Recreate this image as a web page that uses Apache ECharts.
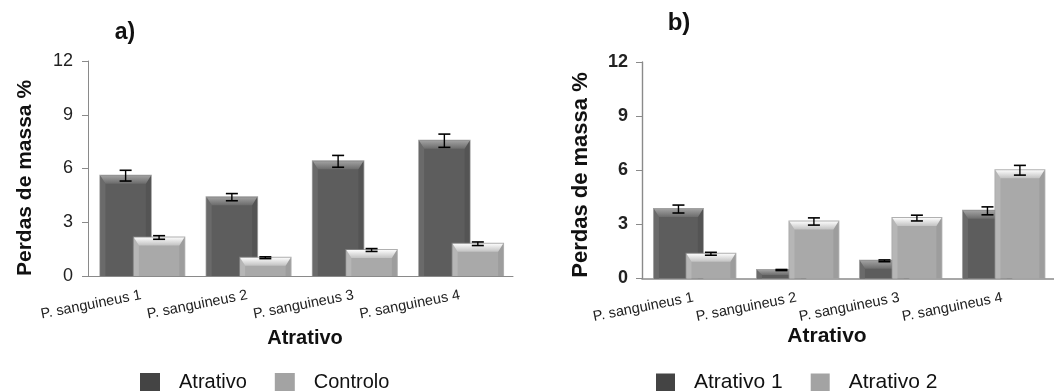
<!DOCTYPE html>
<html>
<head>
<meta charset="utf-8">
<script src="https://cdn.jsdelivr.net/npm/echarts@6/dist/echarts.min.js"></script>
<style>
  html, body { margin: 0; padding: 0; background: #ffffff; }
  #chart { width: 1054px; height: 391px; }
</style>
</head>
<body>
<div id="chart"></div>
<script>
// Mass loss (%) per attractant, with standard-error bars
const categories = ['P. sanguineus 1', 'P. sanguineus 2', 'P. sanguineus 3', 'P. sanguineus 4'];
const yTicks = [0, 3, 6, 9, 12];

// Panel a)
const atrativoA = [5.6, 4.4, 6.4, 7.55];
const atrativoAErr = [0.3, 0.2, 0.33, 0.37];
const controloA = [2.15, 1.02, 1.45, 1.8];
const controloAErr = [0.1, 0.05, 0.08, 0.1];

// Panel b)
const atrativo1B = [3.85, 0.47, 0.98, 3.75];
const atrativo1BErr = [0.22, 0.03, 0.05, 0.22];
const atrativo2B = [1.37, 3.16, 3.35, 6.0];
const atrativo2BErr = [0.08, 0.2, 0.16, 0.27];

const FONT = '"Liberation Sans", Arial, sans-serif';

const DARK = {
  legend: '#444444', body: '#5d5d5d', edge: '#7a7a7a', left: '#6a6a6a', right: '#545454',
  topA: '#a0a0a0', topB: '#6c6c6c'
};
const LIGHT = {
  legend: '#a3a3a3', body: '#a9a9a9', edge: '#8e8e8e', left: '#b6b6b6', right: '#9d9d9d',
  topA: '#fbfbfb', topB: '#c2c2c2'
};

function rows(vals, errs) {
  return vals.map((v, i) => [i, v, errs[i]]);
}

// Bevelled bar plus its error bar; offset and width are fractions of the category band
function bevelRenderer(offsetFrac, widthFrac, pal) {
  return function (params, api) {
    const cat = api.value(0);
    const val = api.value(1);
    const err = api.value(2);
    const band = api.size([1, 0])[0];
    const base = api.coord([cat, 0]);
    const top = api.coord([cat, val]);
    const w = band * widthFrac;
    const cx = base[0] + band * offsetFrac;
    const x = cx - w / 2;
    const y = top[1];
    const h = base[1] - top[1];
    const bt = Math.min(8, h * 0.6);
    const bs = Math.min(5, w / 4);
    const hi = api.coord([cat, val + err])[1];
    const lo = api.coord([cat, val - err])[1];
    const cap = 6;
    const children = [
      { type: 'rect', shape: { x: x - 1, y: y - 1, width: w + 2, height: h + 1 },
        style: { fill: pal.edge, opacity: 0.7 } },
      { type: 'rect', shape: { x: x, y: y, width: w, height: h },
        style: { fill: pal.body } },
      { type: 'polygon', shape: { points: [[x, y], [x + bs, y + bt], [x + bs, base[1]], [x, base[1]]] },
        style: { fill: pal.left } },
      { type: 'polygon', shape: { points: [[x + w, y], [x + w - bs, y + bt], [x + w - bs, base[1]], [x + w, base[1]]] },
        style: { fill: pal.right } },
      { type: 'polygon', shape: { points: [[x, y], [x + w, y], [x + w - bs, y + bt], [x + bs, y + bt]] },
        style: { fill: new echarts.graphic.LinearGradient(0, 0, 0, 1, [
          { offset: 0, color: pal.topA }, { offset: 1, color: pal.topB }]) } },
      { type: 'line', shape: { x1: cx, y1: hi, x2: cx, y2: lo },
        style: { stroke: '#000', lineWidth: 1.4 } },
      { type: 'line', shape: { x1: cx - cap, y1: hi, x2: cx + cap, y2: hi },
        style: { stroke: '#000', lineWidth: 1.6 } },
      { type: 'line', shape: { x1: cx - cap, y1: lo, x2: cx + cap, y2: lo },
        style: { stroke: '#000', lineWidth: 1.6 } }
    ];
    return { type: 'group', children: children };
  };
}

function barSeries(name, idx, data, offsetFrac, pal, z) {
  return {
    name: name,
    type: 'custom',
    xAxisIndex: idx,
    yAxisIndex: idx,
    z: z,
    itemStyle: { color: pal.legend },
    renderItem: bevelRenderer(offsetFrac, 0.475, pal),
    encode: { x: 0, y: 1 },
    data: data
  };
}

function xAxisFor(idx) {
  return {
    type: 'category',
    gridIndex: idx,
    data: categories,
    axisLine: { lineStyle: { color: '#8a8a8a', width: idx === 1 ? 1.6 : 1 } },
    axisTick: { show: false },
    axisLabel: {
      interval: 0, rotate: 11, margin: 19,
      fontFamily: FONT, fontSize: 14.5, color: '#222'
    }
  };
}

function yAxisFor(idx, weight, margin) {
  return {
    type: 'value',
    gridIndex: idx,
    min: yTicks[0],
    max: yTicks[yTicks.length - 1],
    interval: yTicks[1] - yTicks[0],
    splitLine: { show: false },
    axisLine: { show: true, lineStyle: { color: '#8a8a8a', width: idx === 1 ? 1.4 : 1 } },
    axisTick: { show: true, length: 6, lineStyle: { color: '#8a8a8a' } },
    axisLabel: { fontFamily: FONT, fontSize: 18, color: '#222', fontWeight: weight, margin: margin }
  };
}

function text(str, x, y, size, rotation) {
  return {
    type: 'text', x: x, y: y, rotation: rotation || 0,
    style: { text: str, fontFamily: FONT, fontSize: size, fontWeight: 'bold', fill: '#111',
             align: 'center', verticalAlign: 'middle' }
  };
}

const legendBase = {
  orient: 'horizontal',
  icon: 'rect',
  itemWidth: 20,
  itemHeight: 18,
  itemGap: 28,
  padding: 0,
  textStyle: { fontFamily: FONT, fontSize: 20, color: '#111', padding: [0, 0, 0, 14] }
};

const chart = echarts.init(document.getElementById('chart'), null, { renderer: 'canvas' });
chart.setOption({
  backgroundColor: '#ffffff',
  animation: false,
  grid: [
    { left: 88, top: 61, width: 425, height: 215 },
    { left: 642, top: 62, width: 426, height: 216.5 }
  ],
  xAxis: [xAxisFor(0), xAxisFor(1)],
  yAxis: [yAxisFor(0, 'normal', 15), yAxisFor(1, 'bold', 14)],
  legend: [
    Object.assign({}, legendBase, { left: 140, top: 372, data: ['Atrativo', 'Controlo'] }),
    Object.assign({}, legendBase, { left: 656, top: 372, itemWidth: 19, data: ['Atrativo 1', 'Atrativo 2'],
      textStyle: Object.assign({}, legendBase.textStyle, { fontSize: 21 }) })
  ],
  graphic: [
    text('a)', 125, 33, 23),
    text('b)', 679, 23, 24),
    text('Perdas de massa %', 25, 178, 21, Math.PI / 2),
    text('Atrativo', 305, 338, 20),
    text('Perdas de massa %', 581, 175, 22, Math.PI / 2),
    text('Atrativo', 827, 336, 21)
  ],
  series: [
    barSeries('Atrativo', 0, rows(atrativoA, atrativoAErr), -0.146, DARK, 2),
    barSeries('Controlo', 0, rows(controloA, controloAErr), 0.169, LIGHT, 3),
    barSeries('Atrativo 1', 1, rows(atrativo1B, atrativo1BErr), -0.146, DARK, 2),
    barSeries('Atrativo 2', 1, rows(atrativo2B, atrativo2BErr), 0.169, LIGHT, 3)
  ]
});
</script>
</body>
</html>
